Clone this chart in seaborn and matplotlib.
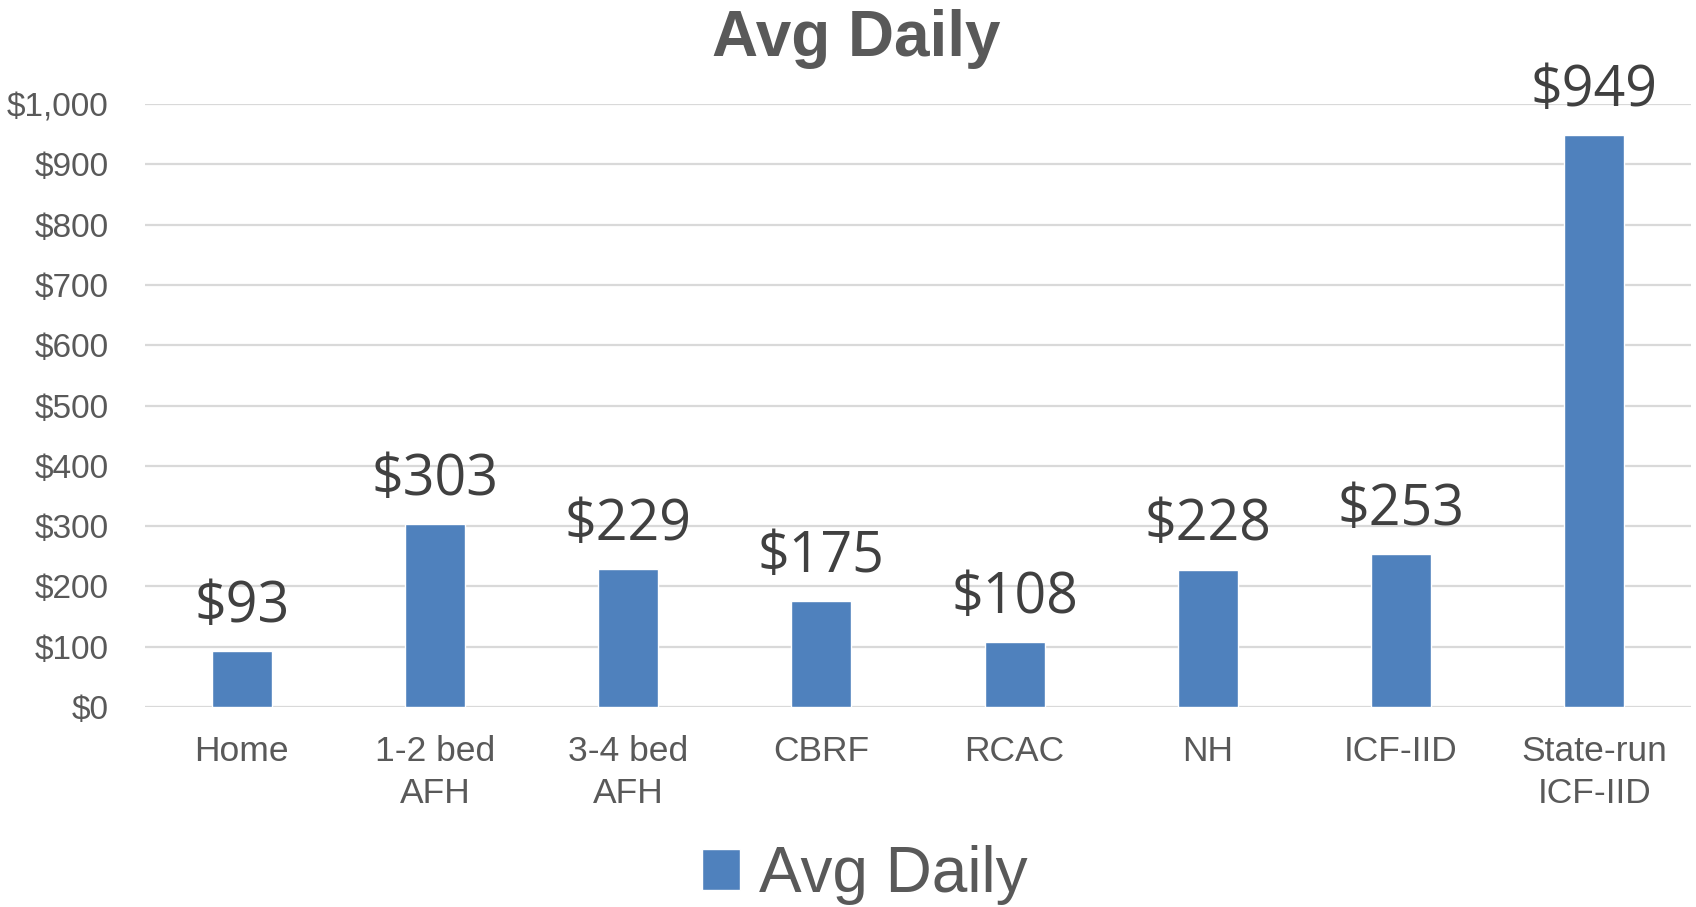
import matplotlib
matplotlib.use("Agg")
import matplotlib.pyplot as plt
import seaborn as sns
from matplotlib.ticker import FuncFormatter

# data
categories = ["Home", "1-2 bed\nAFH", "3-4 bed\nAFH", "CBRF", "RCAC", "NH", "ICF-IID", "State-run\nICF-IID"]
avg_daily = [93, 303, 229, 175, 108, 228, 253, 949]
series_name = "Avg Daily"

bar_color = "#4f81bd"
text_grey = "#595959"

sns.set_theme(style="white")
plt.rcParams["font.family"] = ["Liberation Sans", "DejaVu Sans"]

fig = plt.figure(figsize=(16.96, 9.07), dpi=100)
ax = fig.add_axes([0.0855, 0.2205, 0.9115, 0.6648])

sns.barplot(x=categories, y=avg_daily, color=bar_color, width=0.31,
            saturation=1, label=series_name, ax=ax)

ax.set_ylim(0, 1000)
ax.set_yticks(range(0, 1001, 100))
ax.yaxis.set_major_formatter(FuncFormatter(lambda v, p: f"${v:,.0f}"))
ax.grid(axis="y", color="#d9d9d9", linewidth=1.6)
ax.set_axisbelow(True)
for s in ax.spines.values():
    s.set_visible(False)
ax.tick_params(axis="y", labelsize=24, colors=text_grey, length=0, pad=26)
ax.tick_params(axis="x", labelsize=25.5, colors=text_grey, length=0, pad=20)
for t in ax.get_xticklabels():
    t.set_linespacing(1.35)
ax.set_xlabel("")
ax.set_ylabel("")

# value labels above bars
for i, v in enumerate(avg_daily):
    ax.annotate(f"${v}", (i, v), xytext=(0, 11), textcoords="offset points",
                ha="center", va="bottom", fontsize=40, color="#404040",
                family=["Open Sans", "DejaVu Sans"])

fig.text(0.505, 0.957, series_name, ha="center", va="center",
         fontsize=46, fontweight="bold", color=text_grey)

handles, labels = ax.get_legend_handles_labels()
if ax.get_legend() is not None:
    ax.get_legend().remove()
fig.legend(handles, labels, loc="center", bbox_to_anchor=(0.51, 0.035),
           frameon=False, fontsize=46, labelcolor=text_grey,
           handlelength=0.6, handleheight=0.6, handletextpad=0.3)

fig.savefig("out.png", dpi=100)
